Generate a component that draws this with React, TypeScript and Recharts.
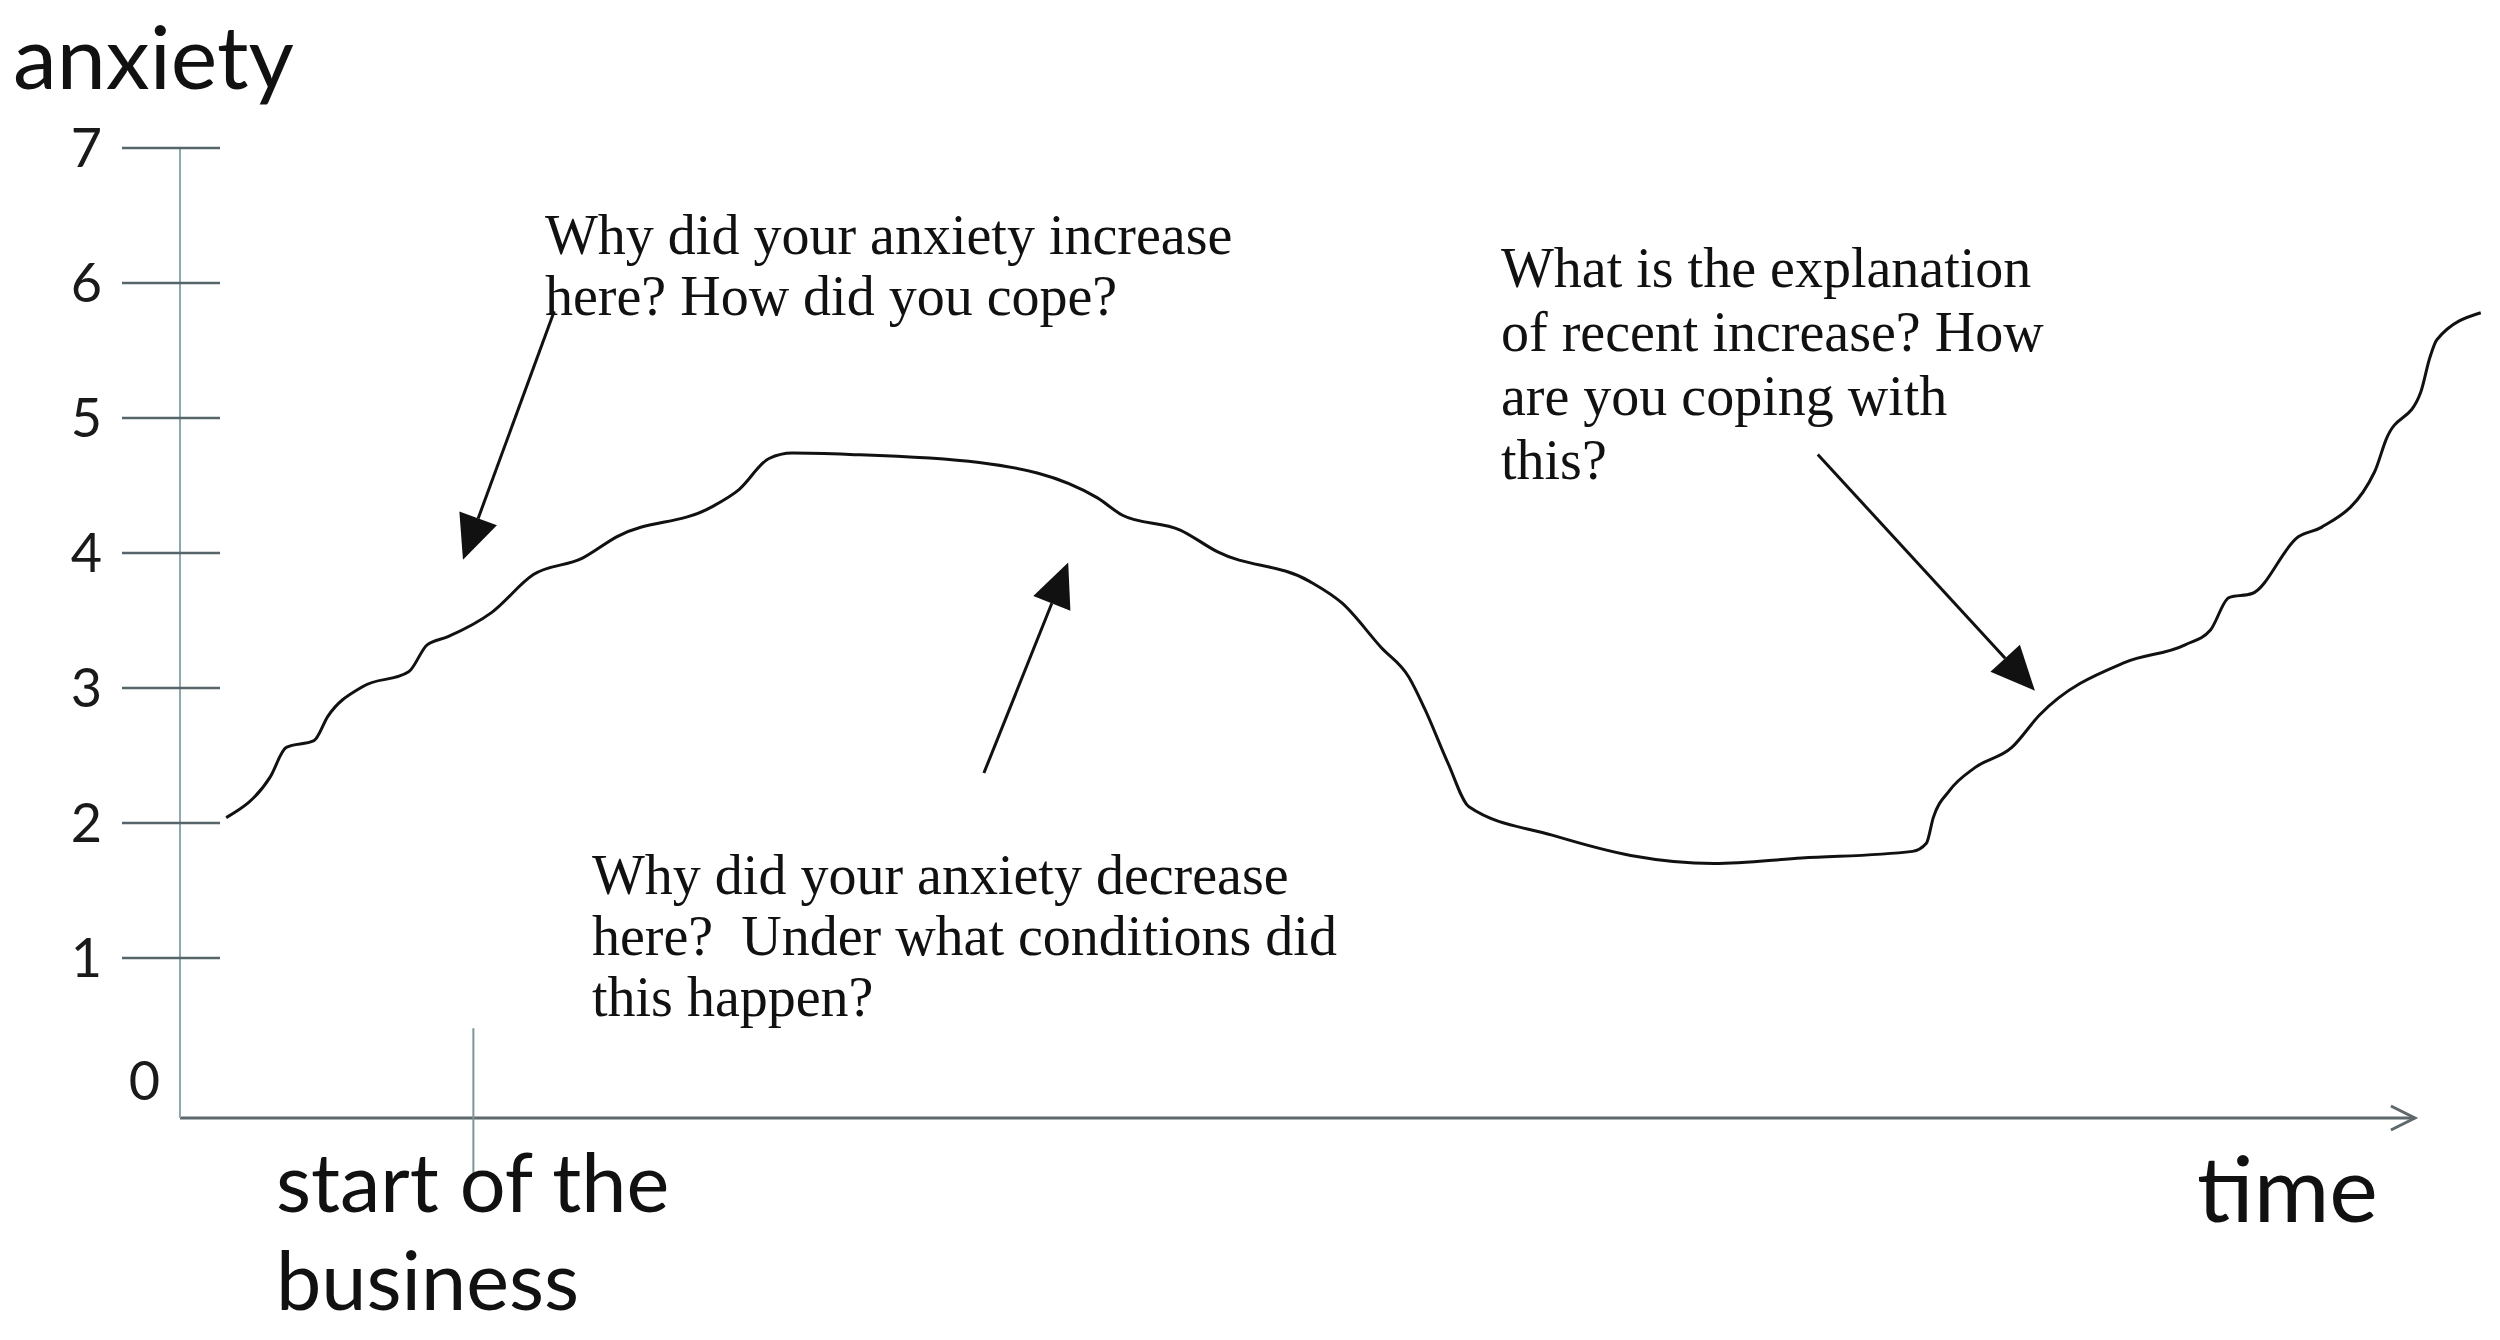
import { LineChart, Line, XAxis, YAxis, ReferenceLine } from "recharts";

// hand-drawn anxiety curve (time in 0..100, anxiety 0..7)
const TIME = [
  2.0, 3.9, 4.6, 5.8, 6.4, 7.9, 9.9, 10.7, 11.6, 13.5, 15.3, 17.4, 18.9, 23.0,
  24.2, 25.5, 26.5, 29.0, 34.6, 39.7, 40.8, 43.3, 44.9, 48.9, 50.3, 52.0, 53.2,
  53.9, 54.9, 55.8, 59.4, 62.8, 66.4, 70.2, 75.0, 75.6, 75.9, 76.6, 77.7, 79.3,
  80.5, 84.2, 86.8, 87.9, 88.7, 89.7, 91.7, 92.7, 95.0, 95.5, 97.0, 97.4, 97.7,
  99.6,
];
const ANXIETY = [
  2.04, 2.34, 2.56, 2.61, 2.79, 3.01, 3.12, 3.32, 3.38, 3.56, 3.84, 3.96, 4.12,
  4.34, 4.47, 4.7, 4.74, 4.73, 4.67, 4.41, 4.28, 4.17, 4.01, 3.79, 3.63, 3.3,
  3.08, 2.84, 2.44, 2.12, 1.91, 1.76, 1.7, 1.74, 1.79, 1.85, 2.04, 2.24, 2.41,
  2.56, 2.8, 3.19, 3.32, 3.43, 3.67, 3.7, 4.12, 4.19, 4.6, 4.84, 5.19, 5.45,
  5.58, 5.78,
];
const Y_TICKS = [0, 1, 2, 3, 4, 5, 6, 7];
const Y_MIN = -0.185;
const Y_MAX = 7;
const START_OF_BUSINESS = 12.7;
const TIME_AXIS_END = 96.75;

// annotation arrows: [tailTime, tailAnxiety, tipTime, tipAnxiety]
const ARROWS = [
  [16.2, 5.79, 12.25, 3.95],
  [34.8, 2.37, 38.45, 3.93],
  [70.9, 4.73, 80.3, 2.98],
];

const NOTE_INCREASE = ["Why did your anxiety increase", "here? How did you cope?"];
const NOTE_DECREASE = [
  "Why did your anxiety decrease",
  "here?  Under what conditions did",
  "this happen?",
];
const NOTE_RECENT = [
  "What is the explanation",
  "of recent increase? How",
  "are you coping with",
  "this?",
];

const data = TIME.map((t, i) => ({ t, v: ANXIETY[i] }));

const sans = "Lato, 'Open Sans', sans-serif";
const serif = "'Liberation Serif', 'DejaVu Serif', serif";

function YTick(props: any) {
  const { x, y, payload } = props;
  if (payload.value === 0) {
    return (
      <text x={x - 20} y={y + 7} textAnchor="end" fontSize={54} fontFamily={sans} fill="#1a1a1a">
        0
      </text>
    );
  }
  return (
    <g>
      <line x1={x - 58} x2={x + 40} y1={y} y2={y} stroke="#56656a" strokeWidth={2.5} />
      <text x={x - 78} y={y + 19} textAnchor="end" fontSize={54} fontFamily={sans} fill="#1a1a1a">
        {payload.value}
      </text>
    </g>
  );
}

function Arrow(p: any) {
  const { x1, y1, x2, y2 } = p;
  const ang = Math.atan2(y2 - y1, x2 - x1);
  const len = 44;
  const half = 20;
  const bx = x2 - len * Math.cos(ang);
  const by = y2 - len * Math.sin(ang);
  const px = -Math.sin(ang) * half;
  const py = Math.cos(ang) * half;
  return (
    <g>
      <line x1={x1} y1={y1} x2={bx} y2={by} stroke="#111" strokeWidth={3} />
      <polygon
        points={`${x2},${y2} ${bx + px},${by + py} ${bx - px},${by - py}`}
        fill="#111"
      />
    </g>
  );
}

function TimeAxis(p: any) {
  const { x1, y1, x2, y2 } = p;
  return (
    <g stroke="#5f686c" strokeWidth={3} fill="none">
      <line x1={x1} y1={y1} x2={x2} y2={y2} />
      <polyline points={`${x2 - 24},${y2 - 12} ${x2},${y2} ${x2 - 24},${y2 + 12}`} />
    </g>
  );
}

function Note({ lines, x, y, gap }: { lines: string[]; x: number; y: number; gap: number }) {
  return (
    <text x={x} y={y} fontSize={56} fontFamily={serif} fill="#111" style={{ whiteSpace: "pre" }}>
      {lines.map((l, i) => (
        <tspan key={i} x={x} y={y + i * gap}>
          {l}
        </tspan>
      ))}
    </text>
  );
}

export default function App() {
  return (
    <div
      style={{
        position: "absolute",
        left: 0,
        top: 0,
        width: 2500,
        height: 1340,
        background: "#fff",
      }}
    >
      <LineChart
        width={2500}
        height={1340}
        data={data}
        margin={{ top: 148, right: 10, bottom: 222, left: 0 }}
      >
        <XAxis dataKey="t" type="number" domain={[0, 100]} hide />
        <YAxis
          type="number"
          domain={[Y_MIN, Y_MAX]}
          ticks={Y_TICKS}
          interval={0}
          width={180}
          tickSize={0}
          tickMargin={0}
          tickLine={false}
          axisLine={{ stroke: "#8fa8ad", strokeWidth: 2 }}
          tick={<YTick />}
        />
        <ReferenceLine
          segment={[
            { x: 0, y: Y_MIN },
            { x: TIME_AXIS_END, y: Y_MIN },
          ]}
          ifOverflow="visible"
          shape={<TimeAxis />}
        />
        <ReferenceLine
          segment={[
            { x: START_OF_BUSINESS, y: 0.48 },
            { x: START_OF_BUSINESS, y: -0.615 },
          ]}
          ifOverflow="visible"
          stroke="#7d9499"
          strokeWidth={2}
        />
        {ARROWS.map((a, i) => (
          <ReferenceLine
            key={i}
            segment={[
              { x: a[0], y: a[1] },
              { x: a[2], y: a[3] },
            ]}
            ifOverflow="visible"
            shape={<Arrow />}
          />
        ))}
        <Line
          type="monotone"
          dataKey="v"
          stroke="#111"
          strokeWidth={3}
          dot={false}
          isAnimationActive={false}
        />
      </LineChart>

      <svg
        width={2500}
        height={1340}
        style={{ position: "absolute", left: 0, top: 0, pointerEvents: "none" }}
      >
        <text x={13} y={89} fontSize={88} fontFamily={sans} fill="#111">
          anxiety
        </text>
        <text x={2197} y={1222} fontSize={92} fontFamily={sans} fill="#111">
          time
        </text>
        <text x={276} y={1212} fontSize={81} fontFamily={sans} fill="#111">
          <tspan x={276} y={1212}>start of the</tspan>
          <tspan x={276} y={1310}>business</tspan>
        </text>
        <Note lines={NOTE_INCREASE} x={545} y={254} gap={61} />
        <Note lines={NOTE_DECREASE} x={592} y={894} gap={61} />
        <Note lines={NOTE_RECENT} x={1501} y={287} gap={64} />
      </svg>
    </div>
  );
}
